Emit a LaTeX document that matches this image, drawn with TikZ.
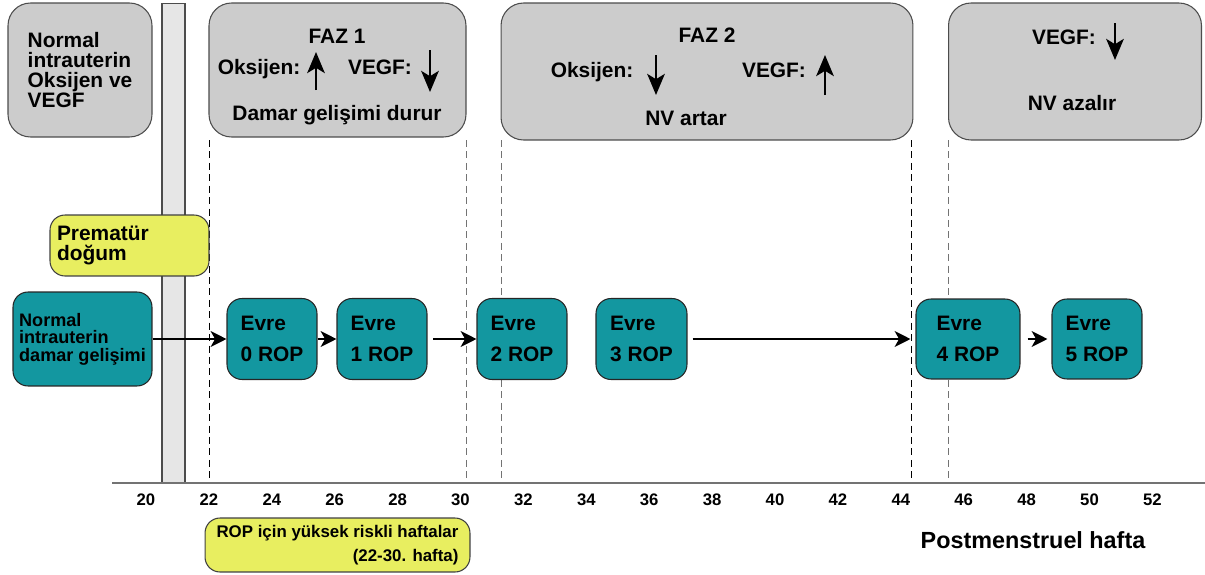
\documentclass[tikz,border=0pt]{standalone}
\usepackage{fontspec}
\setmainfont{Liberation Sans}
\usepackage{tikz}
\usetikzlibrary{arrows.meta}
\definecolor{boxgray}{RGB}{204,204,204}
\definecolor{stripgray}{RGB}{230,230,230}
\definecolor{tealbox}{RGB}{19,151,160}
\definecolor{yelbox}{RGB}{232,238,96}

\begin{document}
\begin{tikzpicture}[x=0.02cm, y=-0.02cm,
  every node/.style={font=\bfseries\fontsize{11.9}{11.4}\selectfont},
  gbox/.style={draw=black!70, line width=0.6pt, fill=boxgray, rounded corners=0.45cm},
  ybox/.style={draw=black!75, line width=0.6pt, fill=yelbox, rounded corners=0.3cm},
  tbox/.style={draw=black!85, line width=0.6pt, fill=tealbox, rounded corners=0.3cm},
  evre/.style={tbox, minimum width=1.8cm, minimum height=1.62cm, align=left,
    font=\bfseries\fontsize{11.9}{17.5}\selectfont},
  txt/.style={anchor=base, inner sep=0pt},
  updown/.style={line width=1.3pt, -{Stealth[length=12pt, width=10pt, inset=3pt]}},
  conn/.style={line width=1.1pt, -{Stealth[length=9pt, width=9pt, inset=2.5pt]}},
  dline/.style={black, line width=0.5pt, dash pattern=on 4pt off 2.5pt},
  gline/.style={black!55, line width=0.5pt, dash pattern=on 4pt off 2.5pt},
  tick/.style={font=\bfseries\fontsize{9.5}{11}\selectfont}
]
\useasboundingbox (0,0) rectangle (1205,575);

\node [draw=black!70, line width=0.6pt, fill=stripgray, minimum width=0.46cm, minimum height=9.6cm, inner sep=0pt] (s) at (173.5,243) {};

\foreach \x in {209,911} \draw [dline] (\x,140) -- (\x,483);
\foreach \x in {466,501,948} \draw [gline] (\x,140) -- (\x,483);
\draw [black!55, line width=0.8pt] (112,483) -- (1205,483);
\foreach \w in {20,22,...,52} \node [tick] (w\w) at ({146+(\w-20)*31.45},500) {\w};
\node [font=\bfseries\fontsize{13.3}{15}\selectfont] (pm) at (1033,540) {Postmenstruel hafta};

\node [gbox, minimum width=2.88cm, minimum height=2.68cm, align=left] (g) at (80,70) {Normal\\intrauterin\\Oksijen ve\\VEGF};

\node [gbox, minimum width=5.14cm, minimum height=2.68cm] (f1) at (337.5,70) {};
\node [txt] (f1t) at (337,43) {FAZ 1};
\node [txt] (f1o) at (259,74) {Oksijen:};
\node [txt] (f1v) at (380,74) {VEGF:};
\node [txt] (f1d) at (337,120) {Damar gelişimi durur};
\draw [updown] (316,90) -- (316,52);
\draw [updown] (430,50) -- (430,92);

\node [gbox, minimum width=8.24cm, minimum height=2.74cm] (f2) at (707,71.5) {};
\node [txt] (f2t) at (707,42) {FAZ 2};
\node [txt] (f2o) at (592,77) {Oksijen:};
\node [txt] (f2v) at (774,77) {VEGF:};
\node [txt] (f2n) at (686,125) {NV artar};
\draw [updown] (656,55) -- (656,95);
\draw [updown] (825,95) -- (825,55);

\node [gbox, minimum width=5.06cm, minimum height=2.74cm] (f3) at (1075,71.5) {};
\node [txt] (f3v) at (1064,44) {VEGF:};
\node [txt] (f3n) at (1072,110) {NV azalır};
\draw [updown] (1115,23) -- (1115,60);

\node [ybox, minimum width=3.18cm, minimum height=1.22cm, text width=2.9cm, inner xsep=0.14cm, align=left,
  font=\bfseries\fontsize{11.9}{11}\selectfont] (p) at (129.5,245.5) {Prematür\\doğum};
\node [ybox, minimum width=5.3cm, minimum height=1.08cm, align=right,
  font=\bfseries\fontsize{9.6}{13.6}\selectfont] (r) at (337.5,545) {ROP için yüksek riskli haftalar\\(22-30. hafta)};

\node [tbox, minimum width=2.78cm, minimum height=1.88cm, align=left,
  font=\bfseries\fontsize{10.3}{10}\selectfont] (n) at (82.5,339) {Normal\\intrauterin\\damar gelişimi};
\node [evre] (e0) at (272,339) {Evre\\0 ROP};
\node [evre] (e1) at (382,339) {Evre\\1 ROP};
\node [evre] (e2) at (522,339) {Evre\\2 ROP};
\node [evre, minimum width=1.82cm] (e3) at (641.5,339) {Evre\\3 ROP};
\node [evre, minimum width=2.08cm, minimum height=1.6cm] (e4) at (968,339) {Evre\\4 ROP};
\node [evre, minimum height=1.6cm] (e5) at (1097,339) {Evre\\5 ROP};

\draw [conn] (n) -- (e0);
\draw [conn] (e0) -- (e1);
\draw [conn, shorten <=0.11cm] (e1) -- (e2);
\draw [conn, shorten <=0.1cm, shorten >=0.1cm] (e3) -- (e4);
\draw [conn, shorten <=0.14cm, shorten >=0.08cm] (e4) -- (e5);
\end{tikzpicture}
\end{document}
